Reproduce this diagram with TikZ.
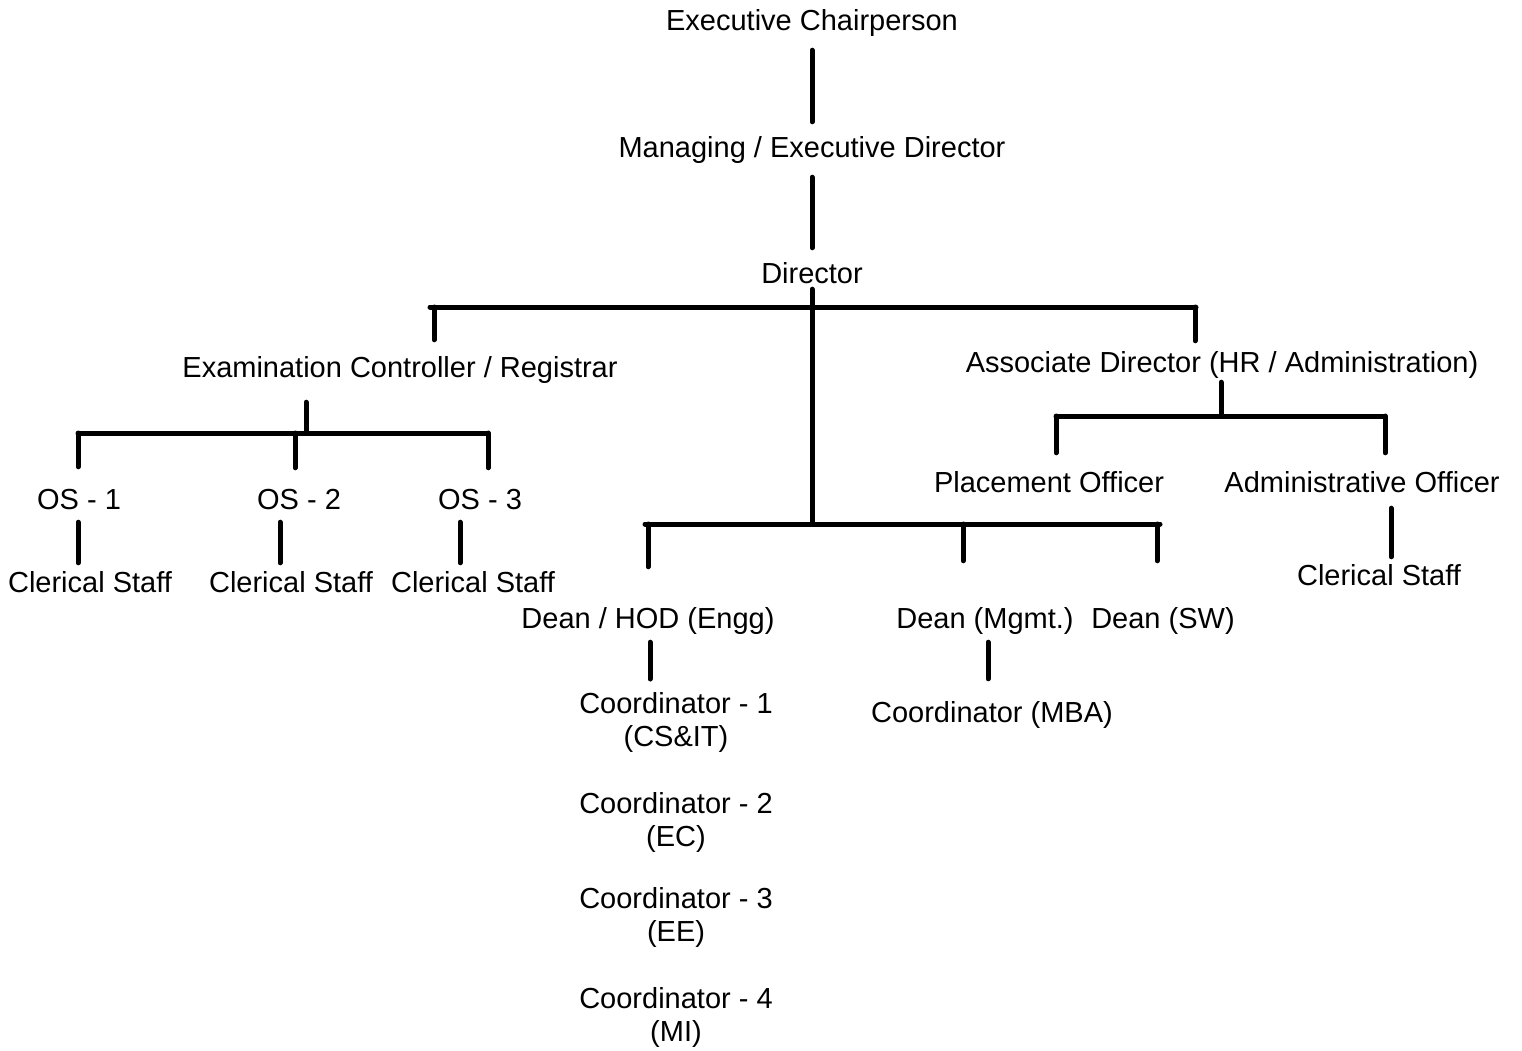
\documentclass[tikz,border=0pt]{standalone}
\usepackage{fontspec}
\setmainfont{Liberation Sans}
\usetikzlibrary{positioning}

\begin{document}
\begin{tikzpicture}[x=1pt, y=-1pt,
    post/.style={font=\fontsize{29}{33}\selectfont, inner sep=0pt, text height=21pt, text depth=6pt},
    post2/.style={font=\fontsize{29}{33}\selectfont, inner sep=0pt, align=center},
    link/.style={line width=5pt, line cap=round}]
        \useasboundingbox (0,0) rectangle (1522,1050);

        % Top of the chain
        \node[post] (chair) at (812,22.5) {Executive Chairperson};
        \node[post] (md) [below of=chair, node distance=127pt] {Managing / Executive Director};
        \node[post] (dir) [below of=md, node distance=126pt] {Director};

        % Second level
        \node[post] (exam) at (400,369.5) {Examination Controller / Registrar};
        \node[post] (assoc) at (1222,364.5) {Associate Director (HR / Administration)};

        % Office staff under the registrar
        \node[post] (os1) at (79,501.5) {OS - 1};
        \node[post] (os2) at (299,501.5) {OS - 2};
        \node[post] (os3) at (480,501.5) {OS - 3};
        \node[post] (cs1) at (90,584.5) {Clerical Staff};
        \node[post] (cs2) at (291,584.5) {Clerical Staff};
        \node[post] (cs3) at (473,584.5) {Clerical Staff};

        % Officers under the associate director
        \node[post] (place) at (1049,484.5) {Placement Officer};
        \node[post] (admin) at (1362,484.5) {Administrative Officer};
        \node[post] (cs4) at (1379,577.5) {Clerical Staff};

        % Deans
        \node[post] (engg) at (648,620.5) {Dean / HOD (Engg)};
        \node[post] (mgmt) at (985,620.5) {Dean (Mgmt.)};
        \node[post] (sw) at (1163,620.5) {Dean (SW)};
        \node[post] (mba) at (992,714.5) {Coordinator (MBA)};

        % Coordinators under engineering
        \node[post2, anchor=north] (co1) at (676,692) {Coordinator - 1\\(CS\&IT)};
        \node[post2] (co2) [below of=co1, node distance=100pt] {Coordinator - 2\\(EC)};
        \node[post2] (co3) [below of=co2, node distance=95pt] {Coordinator - 3\\(EE)};
        \node[post2] (co4) [below of=co3, node distance=100pt] {Coordinator - 4\\(MI)};

        % Chain links
        \draw[link] ([yshift=-14pt]chair.south) -- ([yshift=14pt]md.north);
        \draw[link] ([yshift=-14pt]md.south) -- ([yshift=14pt]dir.north);

        % Director bar
        \coordinate (dirbarL) at (430,307);
        \coordinate (dirbarR) at (1196,307);
        \draw[link] (dirbarL) -- (dirbarR);
        \draw[link] ([xshift=4pt]dirbarL) -- ([xshift=34pt,yshift=16pt]exam.north);
        \draw[link] ([xshift=-1pt]dirbarR) -- ([xshift=-27pt,yshift=10pt]assoc.north);

        % Dean bar
        \coordinate (deanbarL) at (645,524);
        \coordinate (deanbarR) at (1160,524);
        \draw[link] (deanbarL) -- (deanbarR);
        \draw[link] (dir.south) -- (dir.south |- deanbarL);
        \draw[link] (engg.north |- deanbarL) -- ([yshift=40pt]engg.north);
        \draw[link] ([xshift=-22pt]mgmt.north |- deanbarL) -- ([xshift=-22pt,yshift=46pt]mgmt.north);
        \draw[link] ([xshift=-6pt]sw.north |- deanbarL) -- ([xshift=-6pt,yshift=46pt]sw.north);

        % Registrar branch
        \coordinate (osbarL) at (78,433);
        \coordinate (osbarR) at (488,433);
        \draw[link] (osbarL) -- (osbarR);
        \draw[link] ([xshift=-94pt,yshift=-19pt]exam.south) -- ([xshift=-94pt]exam.south |- osbarL);
        \draw[link] (osbarL) -- ([xshift=-1pt,yshift=21pt]os1.north);
        \draw[link] ([xshift=-4pt]os2.north |- osbarL) -- ([xshift=-4pt,yshift=20pt]os2.north);
        \draw[link] (osbarR) -- ([xshift=8pt,yshift=20pt]os3.north);
        \draw[link] ([xshift=-1pt,yshift=-7pt]os1.south) -- ([xshift=-1pt,yshift=8pt]os1.south |- cs1.north);
        \draw[link] ([xshift=-19pt,yshift=-7pt]os2.south) -- ([xshift=-19pt,yshift=8pt]os2.south |- cs2.north);
        \draw[link] ([xshift=-20pt,yshift=-7pt]os3.south) -- ([xshift=-20pt,yshift=8pt]os3.south |- cs3.north);

        % Associate director branch
        \coordinate (offbarL) at (1056,416);
        \coordinate (offbarR) at (1385,416);
        \draw[link] (offbarL) -- (offbarR);
        \draw[link] ([xshift=-1pt,yshift=-4pt]assoc.south) -- ([xshift=-1pt]assoc.south |- offbarL);
        \draw[link] (offbarL) -- ([xshift=7pt,yshift=18pt]place.north);
        \draw[link] (offbarR) -- ([xshift=23pt,yshift=18pt]admin.north);
        \draw[link] ([xshift=29pt,yshift=-10pt]admin.south) -- ([xshift=29pt,yshift=7pt]admin.south |- cs4.north);

        % Dean to coordinator links
        \draw[link] ([xshift=2pt,yshift=-8pt]engg.south) -- ([xshift=2pt,yshift=13pt]engg.south |- co1.north);
        \draw[link] ([xshift=3pt,yshift=-8pt]mgmt.south) -- ([xshift=3pt,yshift=22pt]mgmt.south |- mba.north);
\end{tikzpicture}
\end{document}
